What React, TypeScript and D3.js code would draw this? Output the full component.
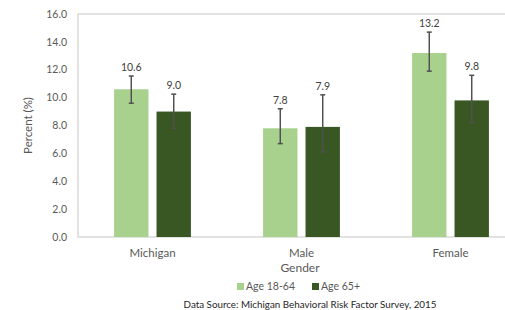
import * as d3 from 'd3'
import { useEffect, useRef } from 'react'

const CATEGORIES = ['Michigan', 'Male', 'Female']
const SERIES = ['Age 18-64', 'Age 65+']
const COLORS = ['#a9d18e', '#385723']
const VALUES = [
  [10.6, 7.8, 13.2],
  [9.0, 7.9, 9.8],
]
const ERR_LOW = [
  [9.6, 6.7, 11.9],
  [7.8, 6.1, 8.2],
]
const ERR_HIGH = [
  [11.55, 9.2, 14.7],
  [10.25, 10.2, 11.6],
]
const Y_TICKS = [0, 2, 4, 6, 8, 10, 12, 14, 16]

export default function App() {
  const ref = useRef<HTMLDivElement>(null)

  useEffect(() => {
    const width = 505
    const height = 310
    const marginTop = 14
    const marginLeft = 78
    const plotBottom = 237
    const plotRight = 525
    const font = 'Lato, "Open Sans", sans-serif'
    const textColor = '#595959'

    const x = d3.scaleBand().domain(CATEGORIES).range([marginLeft, plotRight])
    const xs = d3
      .scaleBand()
      .domain(SERIES)
      .range([0, x.bandwidth()])
      .paddingInner(0.19)
      .paddingOuter(0.85)
    const y = d3.scaleLinear().domain([0, 16]).range([plotBottom, marginTop])

    const svg = d3
      .create('svg')
      .attr('width', width)
      .attr('height', height)
      .attr('viewBox', [0, 0, width, height])
      .attr('style', `position:absolute;left:0;top:0;background:#fff;font-family:${font}`)

    // plot frame
    svg
      .append('rect')
      .attr('x', marginLeft)
      .attr('y', marginTop)
      .attr('width', plotRight - marginLeft)
      .attr('height', plotBottom - marginTop)
      .attr('fill', 'none')
      .attr('stroke', '#d9d9d9')
      .attr('stroke-width', 1.5)

    // y axis labels
    svg
      .append('g')
      .selectAll('text')
      .data(Y_TICKS)
      .join('text')
      .attr('x', marginLeft - 11)
      .attr('y', (d) => y(d))
      .attr('dy', '0.35em')
      .attr('text-anchor', 'end')
      .attr('font-size', 10.5)
      .attr('fill', textColor)
      .text((d) => d.toFixed(1))

    svg
      .append('text')
      .attr('transform', `translate(32, ${(marginTop + plotBottom) / 2}) rotate(-90)`)
      .attr('text-anchor', 'middle')
      .attr('font-size', 11.5)
      .attr('fill', textColor)
      .text('Percent (%)')

    // bars
    const groups = svg
      .append('g')
      .selectAll('g')
      .data(SERIES)
      .join('g')
      .attr('fill', (_, i) => COLORS[i])

    groups
      .selectAll('rect')
      .data((s, si) => CATEGORIES.map((c, ci) => ({ s, si, c, ci, v: VALUES[si][ci] })))
      .join('rect')
      .attr('x', (d) => (x(d.c) as number) + (xs(d.s) as number))
      .attr('y', (d) => y(d.v))
      .attr('width', xs.bandwidth())
      .attr('height', (d) => y(0) - y(d.v))

    const items = SERIES.flatMap((s, si) =>
      CATEGORIES.map((c, ci) => ({
        cx: (x(c) as number) + (xs(s) as number) + xs.bandwidth() / 2,
        v: VALUES[si][ci],
        lo: ERR_LOW[si][ci],
        hi: ERR_HIGH[si][ci],
      })),
    )

    // error bars
    const err = svg.append('g').attr('stroke', '#505050').attr('stroke-width', 1.5)
    err
      .selectAll('line.v')
      .data(items)
      .join('line')
      .attr('x1', (d) => d.cx)
      .attr('x2', (d) => d.cx)
      .attr('y1', (d) => y(d.lo))
      .attr('y2', (d) => y(d.hi))
    err
      .selectAll('line.t')
      .data(items.flatMap((d) => [d.lo, d.hi].map((v) => ({ cx: d.cx, v }))))
      .join('line')
      .attr('x1', (d) => d.cx - 2.5)
      .attr('x2', (d) => d.cx + 2.5)
      .attr('y1', (d) => y(d.v))
      .attr('y2', (d) => y(d.v))

    // value labels
    svg
      .append('g')
      .selectAll('text')
      .data(items)
      .join('text')
      .attr('x', (d) => d.cx)
      .attr('y', (d) => y(d.hi) - 5)
      .attr('text-anchor', 'middle')
      .attr('font-size', 10.5)
      .attr('fill', '#404040')
      .text((d) => d.v.toFixed(1))

    // category labels
    svg
      .append('g')
      .selectAll('text')
      .data(CATEGORIES)
      .join('text')
      .attr('x', (d) => (x(d) as number) + x.bandwidth() / 2)
      .attr('y', 257)
      .attr('text-anchor', 'middle')
      .attr('font-size', 11.5)
      .attr('fill', textColor)
      .text((d) => d)

    svg
      .append('text')
      .attr('x', 300)
      .attr('y', 272)
      .attr('text-anchor', 'middle')
      .attr('font-size', 12)
      .attr('fill', textColor)
      .text('Gender')

    // legend
    const legendX = [237, 312]
    const legend = svg
      .append('g')
      .selectAll('g')
      .data(SERIES)
      .join('g')
      .attr('transform', (_, i) => `translate(${legendX[i]}, 283)`)
    legend
      .append('rect')
      .attr('width', 7)
      .attr('height', 7)
      .attr('fill', (_, i) => COLORS[i])
    legend
      .append('text')
      .attr('x', 9)
      .attr('y', 3.5)
      .attr('dy', '0.35em')
      .attr('font-size', 10.5)
      .attr('fill', textColor)
      .text((d) => d)

    svg
      .append('text')
      .attr('x', 310)
      .attr('y', 308)
      .attr('text-anchor', 'middle')
      .attr('font-size', 9.8)
      .attr('fill', '#262626')
      .text('Data Source: Michigan Behavioral Risk Factor Survey, 2015')

    const node = svg.node()
    if (ref.current && node) {
      ref.current.innerHTML = ''
      ref.current.appendChild(node)
    }
  }, [])

  return <div ref={ref} />
}
